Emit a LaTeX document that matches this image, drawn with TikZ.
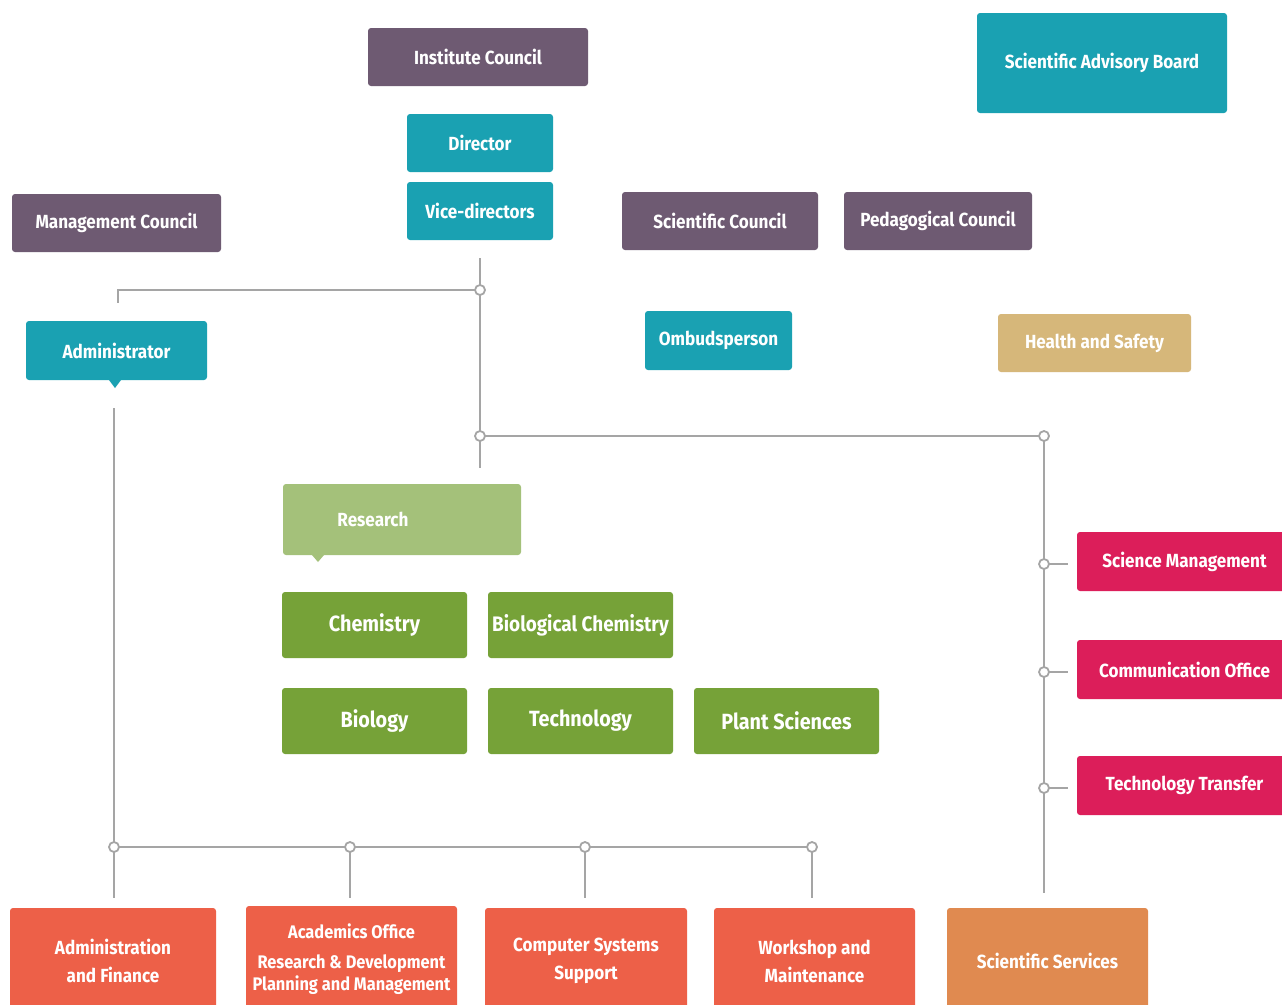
\documentclass[tikz,border=0pt]{standalone}
\usepackage{fontspec}
\setmainfont{Fira Sans}[FakeStretch=0.9]
\definecolor{cpurple}{RGB}{110,90,114}
\definecolor{cteal}{RGB}{26,161,178}
\definecolor{ctan}{RGB}{214,183,122}
\definecolor{clgreen}{RGB}{164,193,122}
\definecolor{cgreen}{RGB}{118,162,56}
\definecolor{ccrimson}{RGB}{220,30,90}
\definecolor{cred}{RGB}{237,96,72}
\definecolor{corange}{RGB}{224,138,80}
\definecolor{cline}{RGB}{165,165,165}
\begin{document}
\begin{tikzpicture}[x=1pt,y=-1pt,
  box/.style={rounded corners=3pt, text=white, align=center, inner sep=0pt,
    font=\bfseries\fontsize{19}{28}\selectfont},
  big/.style={font=\bfseries\fontsize{22}{26}\selectfont},
  conn/.style={draw=cline, line width=2.8pt},
  dot/.style={circle, draw=cline, fill=white, line width=1.8pt, minimum size=10pt, inner sep=0pt}]
\useasboundingbox (0,0) rectangle (1282,1004);
\clip (0,0) rectangle (1282,1004);
\fill[white] (0,0) rectangle (1282,1004);

% top row
\node[box, fill=cpurple, minimum width=220pt, minimum height=58pt] (ic) at (478,57) {Institute Council};
\node[box, fill=cteal, minimum width=250pt, minimum height=100pt] (sab) at (1102,63) {Scientific Advisory Board};
\node[box, fill=cteal, minimum width=146pt, minimum height=58pt] (dir) at (480,143) {Director};
\node[box, fill=cteal, minimum width=146pt, minimum height=58pt] (vd) at (480,211) {Vice-directors};
\node[box, fill=cpurple, minimum width=209pt, minimum height=58pt] (mc) at (116.5,223) {Management Council};
\node[box, fill=cpurple, minimum width=196pt, minimum height=58pt] (sc) at (720,221) {Scientific Council};
\node[box, fill=cpurple, minimum width=188pt, minimum height=58pt] (pc) at (938,221) {Pedagogical Council};

% second row
\node[box, fill=cteal, minimum width=181pt, minimum height=59pt] (adm) at (116.5,350.5) {Administrator};
\fill[cteal] (109,380) -- (121,380) -- (115,388) -- cycle;
\node[box, fill=cteal, minimum width=147pt, minimum height=59pt] (omb) at (718.5,340.5) {Ombudsperson};
\node[box, fill=ctan, minimum width=193pt, minimum height=58pt] (hs) at (1094.5,343) {Health and Safety};

% research
\node[box, fill=clgreen, minimum width=238pt, minimum height=71pt] (res) at (402,519.5) {};
\fill[clgreen] (312,555) -- (324,555) -- (318,562) -- cycle;
\node[text=white, font=\bfseries\fontsize{19}{22}\selectfont, inner sep=0pt] (restext) at (373,519.5) {Research};
\node[box, big, fill=cgreen, minimum width=185pt, minimum height=66pt] (chem) at (374.5,625) {Chemistry};
\node[box, fill=cgreen, minimum width=185pt, minimum height=66pt, font=\bfseries\fontsize{21}{24}\selectfont] (bchem) at (580.5,625) {Biological Chemistry};
\node[box, big, fill=cgreen, minimum width=185pt, minimum height=66pt] (bio) at (374.5,721) {Biology};
\node[box, big, fill=cgreen, minimum width=185pt, minimum height=66pt] (tech) at (580.5,721) {Technology};
\node[box, big, fill=cgreen, minimum width=185pt, minimum height=66pt] (ps) at (786.5,721) {Plant Sciences};

% right column
\node[box, fill=ccrimson, minimum width=215pt, minimum height=59pt] (sm) at (1184.5,561.5) {Science Management};
\node[box, fill=ccrimson, minimum width=215pt, minimum height=59pt] (co) at (1184.5,669.5) {Communication Office};
\node[box, fill=ccrimson, minimum width=215pt, minimum height=59pt] (tt) at (1184.5,785.5) {Technology Transfer};

% bottom row
\node[box, fill=cred, minimum width=206pt, minimum height=106pt] (af) at (113,961) {Administration\\and Finance};
\node[box, fill=cred, minimum width=211pt, minimum height=106pt, font=\bfseries\fontsize{18.2}{26}\selectfont] (ao) at (351.5,959) {Academics Office\\[4pt]Research \& Development\\[-4pt]Planning and Management};
\node[box, fill=cred, minimum width=202pt, minimum height=106pt] (cs) at (586,961) {Computer Systems\\Support};
\node[box, fill=cred, minimum width=201pt, minimum height=106pt] (wm) at (814.5,961) {Workshop and\\Maintenance};
\node[box, fill=corange, minimum width=201pt, minimum height=106pt] (ss) at (1047.5,961) {Scientific Services};

% connector coordinates
\coordinate (vtop) at (480,258);
\coordinate (vbot) at (480,468);
\coordinate (jA) at (480,290);
\coordinate (jB) at (480,436);
\coordinate (admtop) at (118,303);
\coordinate (admcorner) at (118,290);
\coordinate (rc) at (1044,436);
\coordinate (rbot) at (1044,893);
\coordinate (r1) at (1044,564);
\coordinate (r2) at (1044,672);
\coordinate (r3) at (1044,788);
\coordinate (r1e) at (1068,564);
\coordinate (r2e) at (1068,672);
\coordinate (r3e) at (1068,788);
\coordinate (atop) at (114,408);
\coordinate (b1) at (114,847);
\coordinate (b2) at (350,847);
\coordinate (b3) at (585,847);
\coordinate (b4) at (812,847);
\coordinate (b1e) at (114,898);
\coordinate (b2e) at (350,898);
\coordinate (b3e) at (585,898);
\coordinate (b4e) at (812,898);

\draw[conn] (vtop) -- (vbot);
\draw[conn] (jA) -- (admcorner) -- (admtop);
\draw[conn] (jB) -- (rc) -- (rbot);
\draw[conn] (r1) -- (r1e);
\draw[conn] (r2) -- (r2e);
\draw[conn] (r3) -- (r3e);
\draw[conn] (atop) -- (b1e);
\draw[conn] (b1) -- (b4);
\draw[conn] (b2) -- (b2e);
\draw[conn] (b3) -- (b3e);
\draw[conn] (b4) -- (b4e);

\foreach \c in {jA,jB,rc,r1,r2,r3,b1,b2,b3,b4}
  \node[dot] at (\c) {};
\end{tikzpicture}
\end{document}
